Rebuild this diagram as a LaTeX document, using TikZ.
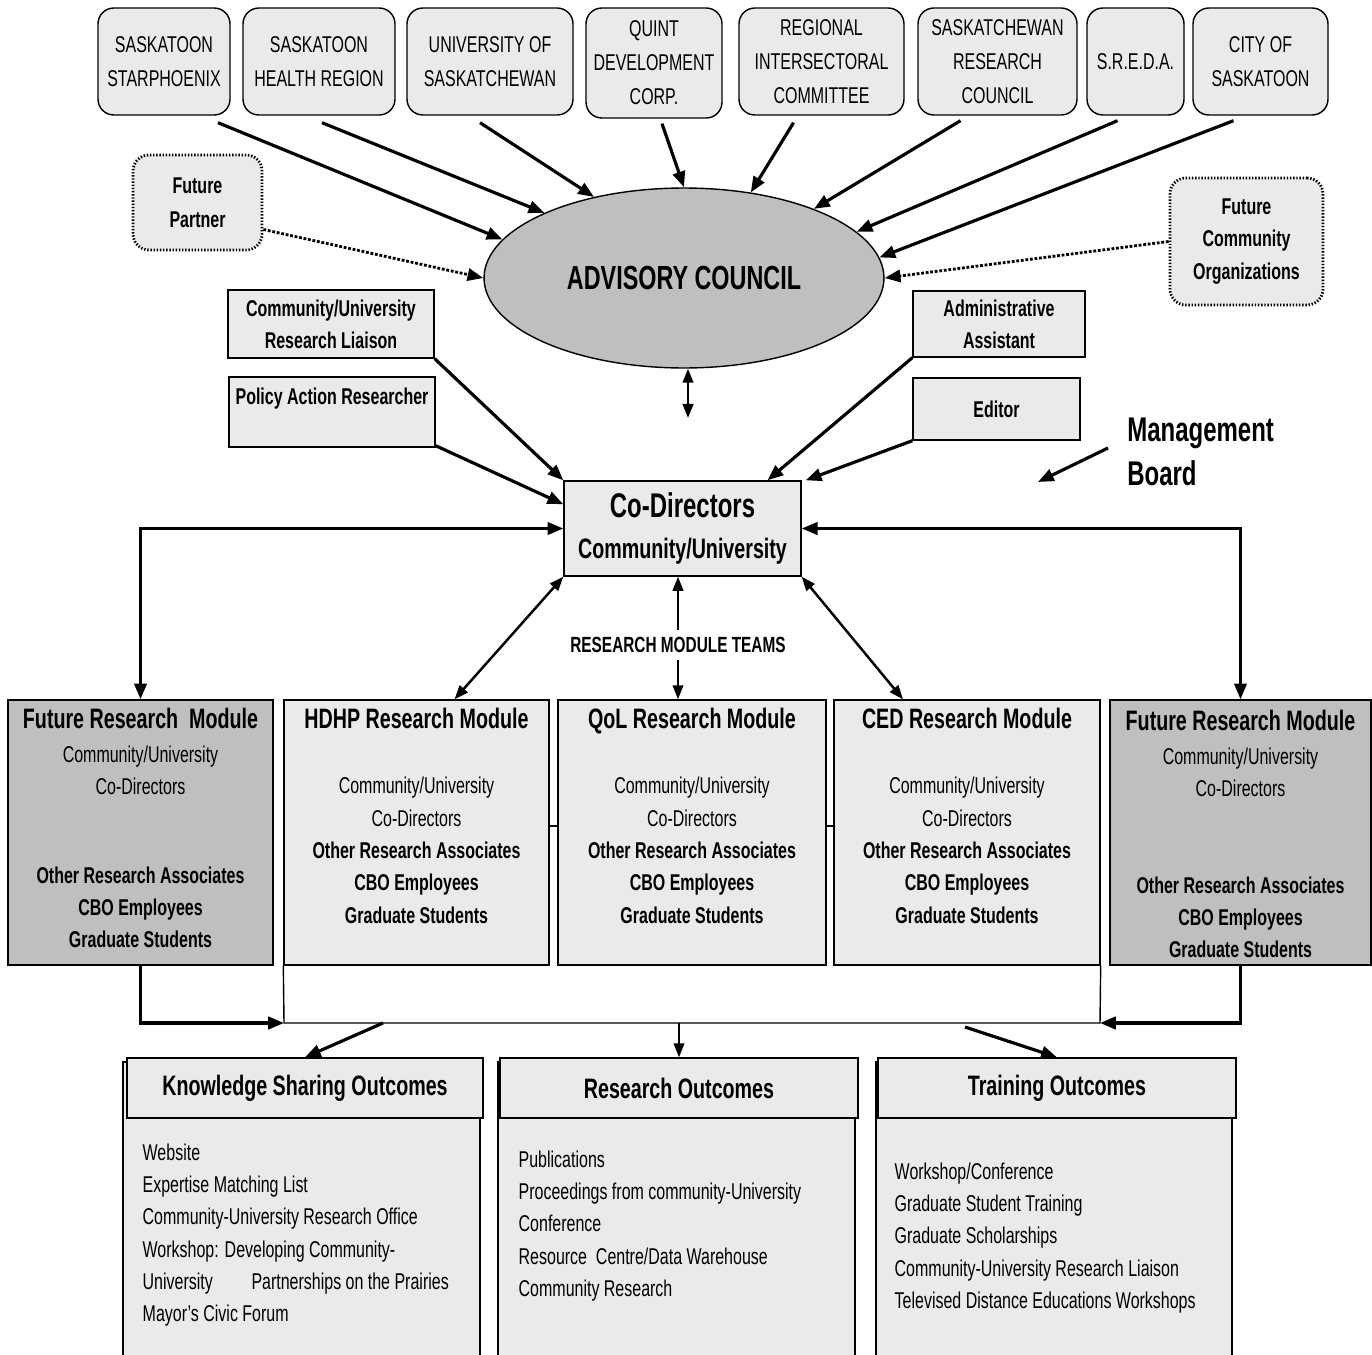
\documentclass[tikz,border=0pt]{standalone}
\usepackage{fontspec}
\setmainfont{Liberation Sans}[FakeStretch=0.7]
\usetikzlibrary{shapes.geometric,arrows.meta,positioning}

\definecolor{boxgray}{RGB}{234,234,234}
\definecolor{modgray}{RGB}{191,191,191}

\newcommand{\boxfont}{\fontsize{13}{19.3}\selectfont}
\newcommand{\bodyfont}{\fontsize{13}{18.4}\selectfont}
\newcommand{\titlefont}{\bfseries\fontsize{16}{19}\selectfont}
\newcommand{\bigfont}{\bfseries\fontsize{19.5}{25}\selectfont}

\begin{document}
\begin{tikzpicture}[
        x=0.02cm, y=-0.02cm,
        partner/.style={draw, line width=0.8pt, rounded corners=9pt, fill=boxgray, align=center, inner sep=0pt, minimum height=2.14cm, font=\boxfont},
        future/.style={partner, densely dotted, line width=1.6pt, font=\bfseries\boxfont},
        staff/.style={draw, line width=0.8pt, fill=boxgray, align=center, inner sep=0pt, font=\bfseries\fontsize{13}{18.1}\selectfont},
        module/.style={draw, line width=0.8pt, fill=boxgray, minimum height=5.3cm, inner sep=0pt},
        modtext/.style={align=center, inner sep=0pt, font=\bodyfont, anchor=north},
        outhead/.style={draw, line width=0.8pt, fill=boxgray, minimum height=1.2cm, inner sep=0pt, font=\titlefont},
        outbody/.style={draw, line width=0.8pt, fill=boxgray, minimum width=7.14cm, minimum height=6.26cm, inner sep=0pt},
        outtext/.style={align=left, inner sep=0pt, font=\bodyfont, anchor=north west},
        arr/.style={-{Triangle[length=9pt,width=7pt]}, line width=1.8pt},
        dbl/.style={{Triangle[length=9pt,width=7pt]}-{Triangle[length=9pt,width=7pt]}, line width=1.8pt},
        dbl2/.style={{Triangle[length=8pt,width=6pt]}-{Triangle[length=8pt,width=6pt]}, line width=1.4pt},
        arr2/.style={-{Triangle[length=8pt,width=6pt]}, line width=1.2pt},
        dotarr/.style={-{Triangle[length=9pt,width=7pt]}, line width=1.6pt, densely dotted},
        thinline/.style={line width=0.8pt}
    ]
    \useasboundingbox (0,0) rectangle (1372,1355);

    % Partners
    \node[partner, minimum width=2.64cm] (b1) at (164,61.5) {SASKATOON\\STARPHOENIX};
    \node[partner, minimum width=3.04cm] (b2) at (319,61.5) {SASKATOON\\HEALTH REGION};
    \node[partner, minimum width=3.32cm] (b3) at (490,61.5) {UNIVERSITY OF\\SASKATCHEWAN};
    \node[partner, minimum width=2.72cm, minimum height=2.2cm] (b4) at (654,63) {QUINT\\DEVELOPMENT\\CORP.};
    \node[partner, minimum width=3.3cm] (b5) at (821.5,61.5) {REGIONAL\\INTERSECTORAL\\COMMITTEE};
    \node[partner, minimum width=3.18cm] (b6) at (997.5,61.5) {SASKATCHEWAN\\RESEARCH\\COUNCIL};
    \node[partner, minimum width=1.94cm] (b7) at (1135.5,61.5) {S.R.E.D.A.};
    \node[partner, minimum width=2.7cm] (b8) at (1260.5,61.5) {CITY OF\\SASKATOON};

    \node[future, minimum width=2.58cm, minimum height=1.9cm] (fp) at (197.5,202.5) {Future\\Partner};
    \node[future, minimum width=3.06cm, minimum height=2.54cm, font=\bfseries\fontsize{13}{18.7}\selectfont] (fc) at (1246.5,241.5) {Future\\Community\\Organizations};

    \node[ellipse, draw, line width=0.8pt, fill=modgray, minimum width=8cm, minimum height=3.6cm, inner sep=0pt,
          font=\bfseries\fontsize{19}{22}\selectfont] (ac) at (684,278) {ADVISORY COUNCIL};

    % Management board
    \node[staff, minimum width=4.12cm, minimum height=1.36cm] (rl) at (331,324) {Community/University\\Research Liaison};
    \node[staff, minimum width=4.12cm, minimum height=1.4cm] (pa) at (332,412) {Policy Action Researcher\\~};
    \node[staff, minimum width=3.44cm, minimum height=1.32cm] (aa) at (999,324) {Administrative\\Assistant};
    \node[staff, minimum width=3.34cm, minimum height=1.24cm] (ed) at (996.5,409) {Editor};
    \node[anchor=west, align=left, inner sep=0pt, font=\bigfont] (mb) at (1127,452) {Management\\Board};
    \coordinate (mbtip) at (1038,482);

    \node[draw, line width=0.8pt, fill=boxgray, minimum width=4.74cm, minimum height=1.9cm, inner sep=0pt, align=center,
          font=\bfseries\fontsize{16}{19}\selectfont] (cd) at (682.5,528.5)
          {{\fontsize{19.5}{22}\selectfont Co-Directors}\\[4pt]Community/University};

    % Research modules
    \node[module, fill=modgray, minimum width=5.3cm] (fl) at (140.5,832.5) {};
    \node[module, minimum width=5.3cm] (hd) at (416.5,832.5) {};
    \node[module, minimum width=5.36cm] (ql) at (692,832.5) {};
    \node[module, minimum width=5.32cm] (ce) at (967,832.5) {};
    \node[module, fill=modgray, minimum width=5.22cm] (fr) at (1240.5,832.5) {};

    \node[modtext] (flt) at ([yshift=-0.16cm]fl.north) {{\titlefont Future Research\ \ Module}\\[1pt]Community/University\\Co-Directors\\[32pt]\textbf{Other Research Associates}\\\textbf{CBO Employees}\\\textbf{Graduate Students}};
    \node[modtext] (hdt) at ([yshift=-0.16cm]hd.north) {{\titlefont HDHP Research Module}\\[19pt]Community/University\\Co-Directors\\\textbf{Other Research Associates}\\\textbf{CBO Employees}\\\textbf{Graduate Students}};
    \node[modtext] (qlt) at ([yshift=-0.16cm]ql.north) {{\titlefont QoL Research Module}\\[19pt]Community/University\\Co-Directors\\\textbf{Other Research Associates}\\\textbf{CBO Employees}\\\textbf{Graduate Students}};
    \node[modtext] (cet) at ([yshift=-0.16cm]ce.north) {{\titlefont CED Research Module}\\[19pt]Community/University\\Co-Directors\\\textbf{Other Research Associates}\\\textbf{CBO Employees}\\\textbf{Graduate Students}};
    \node[modtext] (frt) at ([yshift=-0.2cm]fr.north) {{\titlefont Future Research Module}\\[1pt]Community/University\\Co-Directors\\[36.6pt]\textbf{Other Research Associates}\\\textbf{CBO Employees}\\\textbf{Graduate Students}};

    \node[inner sep=4pt, font=\bfseries\fontsize{12.5}{14}\selectfont] (rm) at (678,645) {RESEARCH MODULE TEAMS};

    % Outcomes
    \node[outbody] (kb) at (301.5,1218.5) {};
    \node[outbody] (rb) at (676.5,1218.5) {};
    \node[outbody, minimum width=7.12cm] (tb) at (1054,1218.5) {};
    \node[outhead, minimum width=7.12cm] (kh) at (305,1088) {Knowledge Sharing Outcomes};
    \node[outhead, minimum width=7.16cm] (rh) at (679,1088) {Research Outcomes};
    \node[outhead, minimum width=7.16cm] (th) at (1057,1088) {Training Outcomes};

    \node[outtext] (kt) at ([shift={(20,82)}]kb.north west) {Website\\Expertise Matching List\\Community-University Research Office\\Workshop: Developing Community-\\University\hspace{22pt}Partnerships on the Prairies\\Mayor's Civic Forum};
    \node[outtext] (rt) at ([shift={(21,89)}]rb.north west) {Publications\\Proceedings from community-University\\Conference\\Resource\ \ Centre/Data Warehouse\\Community Research};
    \node[outtext] (tt) at ([shift={(19,101)}]tb.north west) {Workshop/Conference\\Graduate Student Training\\Graduate Scholarships\\Community-University Research Liaison\\Televised Distance Educations Workshops};

    % Partners to council
    \draw[arr] ([shift={(54,7)}]b1.south) -- (ac.168);
    \draw[arr] ([shift={(3,7)}]b2.south) -- (ac.155);
    \draw[arr] ([shift={(-10,7)}]b3.south) -- (ac.138);
    \draw[arr] ([shift={(8,5)}]b4.south) -- (ac.90);
    \draw[arr] ([shift={(-28,7)}]b5.south) -- (ac.52);
    \draw[arr] ([shift={(-37,5)}]b6.south) -- (ac.28);
    \draw[arr] ([shift={(-18,5)}]b7.south) -- (ac.15);
    \draw[arr] ([shift={(-27,5)}]b8.south) -- (ac.6);
    \draw[dotarr] ([shift={(0,27)}]fp.east) -- (ac.180);
    \draw[dotarr] (fc.west) -- (ac.0);

    % Council and board to co-directors
    \coordinate (acb) at (688,418);
    \draw[dbl2] ([shift={(4,0)}]ac.south) -- (acb);
    \draw[arr] (rl.south east) -- (cd.north west);
    \draw[arr] ([shift={(0,-2)}]pa.south east) -- ([shift={(0,24)}]cd.north west);
    \draw[arr] (aa.south west) -- ([shift={(85,0)}]cd.north);
    \draw[arr] (ed.south west) -- ([shift={(4,0)}]cd.north east);
    \draw[arr] ([shift={(-19,-4)}]mb.west) -- (mbtip);

    % Co-directors to modules
    \draw[dbl] (fl.north) |- (cd.west);
    \draw[dbl] (fr.north) |- (cd.east);
    \draw[dbl2] ([shift={(38,0)}]hd.north) -- (cd.south west);
    \draw[dbl2] ([shift={(-64,0)}]ce.north) -- (cd.south east);
    \draw[arr2] (rm.north) -- (rm.north |- cd.south);
    \draw[arr2] (rm.south) -- (rm.south |- ql.north);
    \draw[thinline] ([shift={(0,-6.5)}]hd.east) -- ([shift={(0,-6.5)}]ql.west);
    \draw[thinline] ([shift={(0,-6.5)}]ql.east) -- ([shift={(0,-6.5)}]ce.west);

    % Modules to outcomes
    \coordinate (barl) at (284,1023);
    \coordinate (barr) at (1100,1023);
    \draw[thinline] (hd.south west) -- (barl) -- (barr) -- (ce.south east);
    \draw[arr] (fl.south) |- (barl);
    \draw[arr] (fr.south) |- (barr);
    \draw[arr] ([shift={(99,0)}]barl) -- (kh.north);
    \draw[arr2] (rh.north |- barl) -- (rh.north);
    \draw[arr] ([shift={(-135,4)}]barr) -- (th.north);
\end{tikzpicture}
\end{document}
